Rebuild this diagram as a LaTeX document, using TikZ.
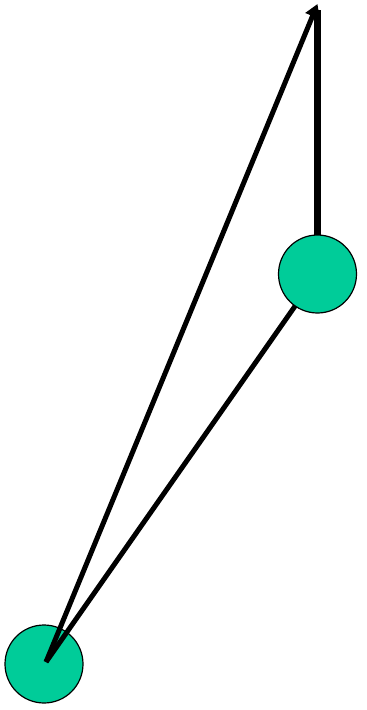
\documentclass[tikz,border=0pt]{standalone}
\usetikzlibrary{arrows.meta}
\definecolor{ballgreen}{HTML}{00CC99}
\begin{document}
\begin{tikzpicture}[x=1pt,y=-1pt,
  ball/.style={circle,draw=black,line width=1.2pt,fill=ballgreen,minimum size=78pt,inner sep=0pt},
  rod/.style={line width=5pt},
  arr/.style={-{Triangle[length=13pt,width=15pt]}}]
\useasboundingbox (0,0) rectangle (367,710);
\coordinate (uc) at (317.5,274);
\coordinate (top) at (317.5,4);
\node[ball] (lo) at (44,664) {};
\coordinate (lc) at (46,662);
\draw[rod] (lc) -- (uc);
\draw[rod,line width=7pt] (uc) -- (317.5,10);
\draw[rod,arr] (lc) -- (top);
\node[ball] (up) at (uc) {};
\end{tikzpicture}
\end{document}
